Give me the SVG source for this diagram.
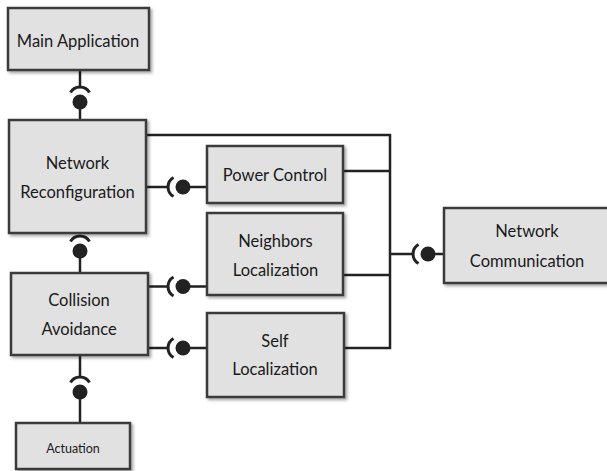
<svg xmlns="http://www.w3.org/2000/svg" width="607" height="471" viewBox="0 0 607 471">
<style>
  .box{fill:#e1e1e1;stroke:#3a3a3a;stroke-width:2.5;filter:url(#sh)}
  .t{font-family:Lato,"Open Sans","Liberation Sans",sans-serif;font-size:16.5px;fill:#1a1a1a;text-anchor:middle}
  .ts{font-size:12.5px}
  .ln{fill:none;stroke:#222;stroke-width:2.5}
  .arc{fill:none;stroke:#222;stroke-width:3}
  .ball{fill:#222}
</style>
<defs>
  <filter id="sh" x="-10%" y="-10%" width="130%" height="130%">
    <feDropShadow dx="2" dy="2" stdDeviation="1.5" flood-color="#000" flood-opacity="0.35"/>
  </filter>
  <g id="sock">
    <path class="arc" d="M -9.5 -9.5 A 11 11 0 0 0 -9.5 9.5"/>
    <circle class="ball" cx="0" cy="0" r="7.5"/>
  </g>
</defs>
<rect width="607" height="471" fill="#fff"/>

<g id="connectors">
  <path class="ln" d="M80 70V87 M80 102V120 M80 251V273 M80 355V377 M80 392V423"/>
  <path class="ln" d="M146 187H168 M183 187H207 M148 286.5H168 M183 286.5H207 M148 348H168 M183 348H207"/>
  <path class="ln" d="M146 135H390V348H344 M343 171H390 M343 275H390 M390 254H413 M428 254H444"/>
  <use href="#sock" transform="translate(80,102) rotate(90)"/>
  <use href="#sock" transform="translate(80,251) rotate(90)"/>
  <use href="#sock" transform="translate(80,392) rotate(90)"/>
  <use href="#sock" transform="translate(183,187)"/>
  <use href="#sock" transform="translate(183,286.5)"/>
  <use href="#sock" transform="translate(183,348)"/>
  <use href="#sock" transform="translate(428,254)"/>
</g>

<g id="main-application">
  <rect class="box" x="8" y="8" width="141" height="62"/>
  <text class="t" x="78" y="47">Main Application</text>
</g>
<g id="network-reconfiguration">
  <rect class="box" x="9" y="120" width="137" height="113"/>
  <text class="t" x="77.5" y="169">Network</text>
  <text class="t" x="77.5" y="198">Reconfiguration</text>
</g>
<g id="power-control">
  <rect class="box" x="207" y="146" width="136" height="57"/>
  <text class="t" x="275" y="181">Power Control</text>
</g>
<g id="neighbors-localization">
  <rect class="box" x="207" y="213" width="136" height="82"/>
  <text class="t" x="275.5" y="247">Neighbors</text>
  <text class="t" x="275.5" y="276">Localization</text>
</g>
<g id="self-localization">
  <rect class="box" x="207" y="313" width="137" height="84"/>
  <text class="t" x="275" y="347">Self</text>
  <text class="t" x="275" y="375">Localization</text>
</g>
<g id="network-communication">
  <rect class="box" x="444" y="208" width="168" height="75"/>
  <text class="t" x="527" y="237">Network</text>
  <text class="t" x="527" y="267">Communication</text>
</g>
<g id="collision-avoidance">
  <rect class="box" x="11" y="273" width="137" height="82"/>
  <text class="t" x="79" y="306">Collision</text>
  <text class="t" x="79" y="335">Avoidance</text>
</g>
<g id="actuation">
  <rect class="box" x="16" y="423" width="114" height="46"/>
  <text class="t ts" x="73" y="453">Actuation</text>
</g>
</svg>
